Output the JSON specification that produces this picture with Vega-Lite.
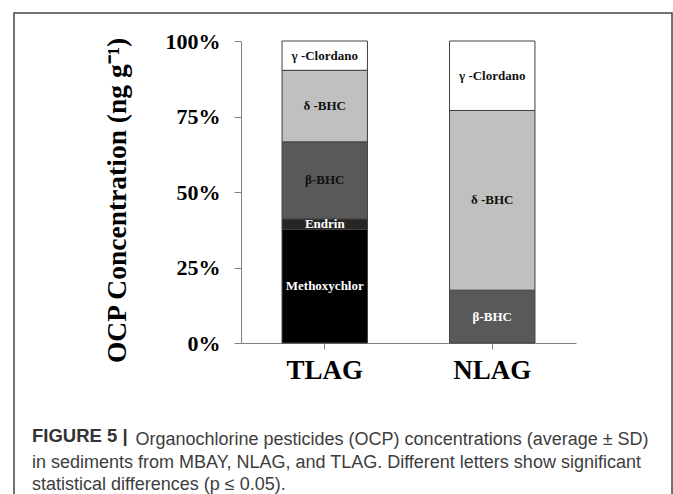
{
  "$schema": "https://vega.github.io/schema/vega-lite/v6.json",
  "width": 658,
  "height": 483,
  "autosize": {"type": "none"},
  "padding": {"left": 14, "top": 13, "right": 1, "bottom": 0},
  "background": "white",
  "config": {
    "view": {"stroke": "#444444", "strokeWidth": 1.5},
    "axis": {"grid": false}
  },
  "title": {
    "text": "FIGURE 5 |",
    "subtitle": ["in sediments from MBAY, NLAG, and TLAG. Different letters show significant", "statistical differences (p ≤ 0.05)."],
    "anchor": "start",
    "frame": "group",
    "orient": "top",
    "baseline": "alphabetic",
    "dx": 18,
    "dy": 500,
    "font": "Liberation Sans",
    "fontSize": 18.5,
    "fontWeight": "bold",
    "color": "#333333",
    "subtitleFont": "Liberation Sans",
    "subtitleFontSize": 18,
    "subtitleFontWeight": "normal",
    "subtitleColor": "#3d3d3d",
    "subtitleLineHeight": 22,
    "subtitlePadding": 8
  },
  "data": {
    "values": [
      {"site": "TLAG", "compound": "Methoxychlor", "order": 1, "pct": 37.6},
      {"site": "TLAG", "compound": "Endrin", "order": 2, "pct": 3.5},
      {"site": "TLAG", "compound": "β-BHC", "order": 3, "pct": 25.5},
      {"site": "TLAG", "compound": "δ -BHC", "order": 4, "pct": 23.7},
      {"site": "TLAG", "compound": "γ -Clordano", "order": 5, "pct": 9.7},
      {"site": "NLAG", "compound": "β-BHC", "order": 3, "pct": 17.5},
      {"site": "NLAG", "compound": "δ -BHC", "order": 4, "pct": 59.5},
      {"site": "NLAG", "compound": "γ -Clordano", "order": 5, "pct": 23.0}
    ]
  },
  "transform": [
    {"stack": "pct", "groupby": ["site"], "sort": [{"field": "order", "order": "ascending"}], "as": ["y0", "y1"], "offset": "normalize"}
  ],
  "encoding": {
    "x": {
      "field": "site",
      "type": "nominal",
      "sort": ["TLAG", "NLAG"],
      "scale": {"range": [227, 562], "paddingInner": 0.49, "paddingOuter": 0.245},
      "axis": {
        "orient": "bottom",
        "offset": -153,
        "labelAngle": 0,
        "labelFont": "Liberation Serif",
        "labelFontWeight": "bold",
        "labelFontSize": 27,
        "labelColor": "#000000",
        "labelPadding": 8,
        "tickSize": 6,
        "tickColor": "#808080",
        "domainColor": "#808080",
        "title": "Organochlorine pesticides (OCP) concentrations (average ± SD)",
        "titleX": 121,
        "titleY": 101,
        "titleAlign": "left",
        "titleBaseline": "alphabetic",
        "titleFont": "Liberation Sans",
        "titleFontSize": 18,
        "titleFontWeight": "normal",
        "titleColor": "#3d3d3d"
      }
    }
  },
  "layer": [
    {
      "mark": {"type": "bar", "stroke": "#404040", "strokeWidth": 1},
      "encoding": {
        "y": {
          "field": "y0",
          "type": "quantitative",
          "scale": {"domain": [0, 1], "range": [330, 28], "nice": false},
          "axis": {
            "orient": "left",
            "offset": -227,
            "values": [0, 0.25, 0.5, 0.75, 1],
            "format": ".0%",
            "labelFont": "Liberation Serif",
            "labelFontWeight": "bold",
            "labelFontSize": 22,
            "labelColor": "#000000",
            "labelPadding": 14,
            "tickSize": 7,
            "tickColor": "#808080",
            "domainColor": "#808080",
            "title": "OCP Concentration  (ng g⁻¹)",
            "titleFont": "Liberation Serif",
            "titleFontWeight": "bold",
            "titleFontSize": 27.5,
            "titleColor": "#000000",
            "titleX": -124,
            "titleY": 187,
            "titleBaseline": "middle",
            "titleAngle": -90
          }
        },
        "y2": {"field": "y1"},
        "color": {
          "field": "compound",
          "type": "nominal",
          "scale": {
            "domain": ["Methoxychlor", "Endrin", "β-BHC", "δ -BHC", "γ -Clordano"],
            "range": ["#000000", "#262626", "#595959", "#c0c0c0", "#ffffff"]
          },
          "legend": null
        }
      }
    },
    {
      "transform": [{"calculate": "(datum.y0 + datum.y1) / 2", "as": "ymid"}],
      "mark": {"type": "text", "font": "Liberation Serif", "fontWeight": "bold", "fontSize": 13, "baseline": "middle"},
      "encoding": {
        "y": {"field": "ymid", "type": "quantitative"},
        "text": {"field": "compound"},
        "color": {
          "condition": {"test": "datum.compound === 'Methoxychlor' || datum.compound === 'Endrin' || (datum.compound === 'β-BHC' && datum.site === 'NLAG')", "value": "#ffffff"},
          "value": "#111111"
        }
      }
    }
  ]
}
